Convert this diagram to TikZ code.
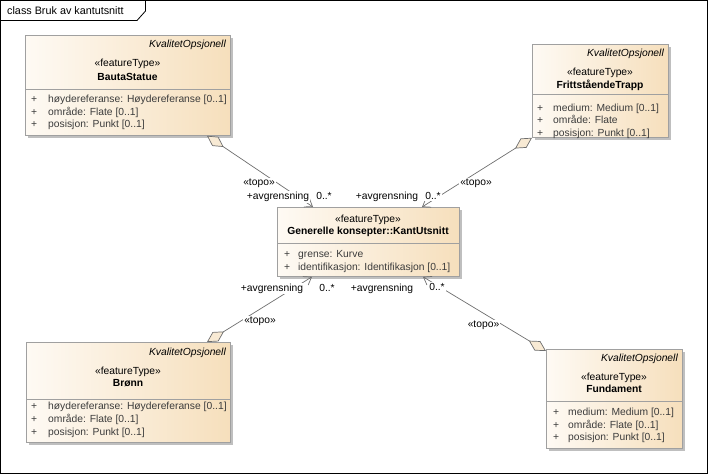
\documentclass[tikz,border=0pt]{standalone}
\usepackage{fontspec}
\setmainfont{Liberation Sans}
\usetikzlibrary{arrows.meta,shadows,calc}
\definecolor{boxl}{RGB}{254,250,244}
\definecolor{boxr}{RGB}{246,223,188}
\definecolor{boxdraw}{RGB}{160,160,160}
\definecolor{linec}{RGB}{110,110,110}
\definecolor{attrc}{RGB}{60,60,60}
\definecolor{diafill}{RGB}{248,234,212}
\tikzset{
 classbox/.style={draw=boxdraw, line width=0.8pt, left color=boxl, right color=boxr, anchor=north west, inner sep=0pt,
   drop shadow={shadow xshift=3pt, shadow yshift=-3pt, fill=black!25, opacity=1}},
 txt/.style={font=\fontsize{10.3}{12}\selectfont, inner sep=0pt},
 kval/.style={txt, font=\fontsize{10.3}{12}\selectfont\itshape, anchor=base east},
 stereo/.style={txt, anchor=base},
 cname/.style={txt, font=\fontsize{10.3}{12}\selectfont\bfseries, anchor=base},
 attr/.style={txt, anchor=base west, text=attrc},
 divider/.style={draw=boxdraw, line width=0.8pt},
 assoc/.style={draw=linec, line width=0.7pt, {Diamond[length=20pt,width=11pt,fill=diafill]}-{Straight Barb[length=7pt,width=10pt]}},
 lab/.style={txt, fill=white, inner sep=1pt, anchor=base},
}
\begin{document}
\begin{tikzpicture}[x=1pt,y=-1pt]
\useasboundingbox (0,0) rectangle (708,474);
\draw[line width=0.8pt] (0.5,0.5) rectangle (707.5,473.5);
\draw[line width=0.8pt] (0,20.5) -- (137,20.5) -- (145.5,11) -- (145.5,0);
\node[txt, font=\fontsize{10.8}{12}\selectfont, anchor=base west] (title) at (7,14) {class Bruk av kantutsnitt};

% BautaStatue
\node[classbox, minimum width=205pt, minimum height=100pt] (bauta) at (25,35) {};
\draw[divider] (bauta.west |- 0,89.5) -- (bauta.east |- 0,89.5);
\node[kval] (bautaK) at (226,47.5) {KvalitetOpsjonell};
\node[stereo] (bautaS) at (127.5,66.5) {«featureType»};
\node[cname] (bautaN) at (127.5,80.5) {BautaStatue};
\node[attr] (bautaP1) at (31,102.5) {+};
\node[attr] (bautaA1) at (48,102.5) {høydereferanse: Høydereferanse [0..1]};
\node[attr] (bautaP2) at (31,115) {+};
\node[attr] (bautaA2) at (48,115) {område: Flate [0..1]};
\node[attr] (bautaP3) at (31,127.5) {+};
\node[attr] (bautaA3) at (48,127.5) {posisjon: Punkt [0..1]};

% FrittstaaendeTrapp
\node[classbox, minimum width=136pt, minimum height=93pt] (trapp) at (532,44) {};
\draw[divider] (trapp.west |- 0,94) -- (trapp.east |- 0,94);
\node[kval] (trappK) at (664,56.5) {KvalitetOpsjonell};
\node[stereo] (trappS) at (600,75.5) {«featureType»};
\node[cname] (trappN) at (600,88.5) {FrittståendeTrapp};
\node[attr] (trappP1) at (537,111.5) {+};
\node[attr] (trappA1) at (553,111.5) {medium: Medium [0..1]};
\node[attr] (trappP2) at (537,123.5) {+};
\node[attr] (trappA2) at (553,123.5) {område: Flate};
\node[attr] (trappP3) at (537,136) {+};
\node[attr] (trappA3) at (553,136) {posisjon: Punkt [0..1]};

% KantUtsnitt
\node[classbox, minimum width=182pt, minimum height=69pt] (kant) at (277,207) {};
\draw[divider] (kant.west |- 0,243) -- (kant.east |- 0,243);
\node[stereo] (kantS) at (368,222.5) {«featureType»};
\node[cname] (kantN) at (368,234.5) {Generelle konsepter::KantUtsnitt};
\node[attr] (kantP1) at (284,257.5) {+};
\node[attr] (kantA1) at (298,257.5) {grense: Kurve};
\node[attr] (kantP2) at (284,270) {+};
\node[attr] (kantA2) at (298,270) {identifikasjon: Identifikasjon [0..1]};

% Bronn
\node[classbox, minimum width=204pt, minimum height=100pt] (bronn) at (26,342) {};
\draw[divider] (bronn.west |- 0,399) -- (bronn.east |- 0,399);
\node[kval] (bronnK) at (226,355.5) {KvalitetOpsjonell};
\node[stereo] (bronnS) at (128,374.5) {«featureType»};
\node[cname] (bronnN) at (128,386.5) {Brønn};
\node[attr] (bronnP1) at (31,409.5) {+};
\node[attr] (bronnA1) at (48,409.5) {høydereferanse: Høydereferanse [0..1]};
\node[attr] (bronnP2) at (31,422.5) {+};
\node[attr] (bronnA2) at (48,422.5) {område: Flate [0..1]};
\node[attr] (bronnP3) at (31,435.5) {+};
\node[attr] (bronnA3) at (48,435.5) {posisjon: Punkt [0..1]};

% Fundament
\node[classbox, minimum width=136pt, minimum height=99pt] (fund) at (546,349) {};
\draw[divider] (fund.west |- 0,401) -- (fund.east |- 0,401);
\node[kval] (fundK) at (678,361.5) {KvalitetOpsjonell};
\node[stereo] (fundS) at (614,380.5) {«featureType»};
\node[cname] (fundN) at (614,392.5) {Fundament};
\node[attr] (fundP1) at (553,415.5) {+};
\node[attr] (fundA1) at (568,415.5) {medium: Medium [0..1]};
\node[attr] (fundP2) at (553,428) {+};
\node[attr] (fundA2) at (568,428) {område: Flate [0..1]};
\node[attr] (fundP3) at (553,440.5) {+};
\node[attr] (fundA3) at (568,440.5) {posisjon: Punkt [0..1]};

% connectors
\coordinate (s1) at ($(bauta.south west)+(182,0)$);
\coordinate (e1) at ($(kant.north west)+(36,0)$);
\coordinate (s2) at (trapp.south west);
\coordinate (e2) at ($(kant.north west)+(145,0)$);
\coordinate (s3) at ($(bronn.north west)+(181,0)$);
\coordinate (e3) at ($(kant.south west)+(35,0)$);
\coordinate (s4) at ($(fund.north west)+(0,2)$);
\coordinate (e4) at ($(kant.south west)+(146,0)$);
\draw[assoc] (s1) -- (e1);
\draw[assoc] (s2) -- (e2);
\draw[assoc] (s3) -- (e3);
\draw[assoc] (s4) -- (e4);

% labels
\node[lab] (t1) at (259,185.5) {«topo»};
\node[lab] (r1) at (278,199.5) {+avgrensning};
\node[lab] (m1) at (324,199.5) {0..*};
\node[lab] (t2) at (476,185.5) {«topo»};
\node[lab] (r2) at (387,199.5) {+avgrensning};
\node[lab] (m2) at (433,199.5) {0..*};
\node[lab] (t3) at (260,323.5) {«topo»};
\node[lab] (r3) at (272,291) {+avgrensning};
\node[lab] (m3) at (327,291) {0..*};
\node[lab] (t4) at (483.5,327.5) {«topo»};
\node[lab] (r4) at (382,291) {+avgrensning};
\node[lab] (m4) at (437,290.5) {0..*};
\end{tikzpicture}
\end{document}
